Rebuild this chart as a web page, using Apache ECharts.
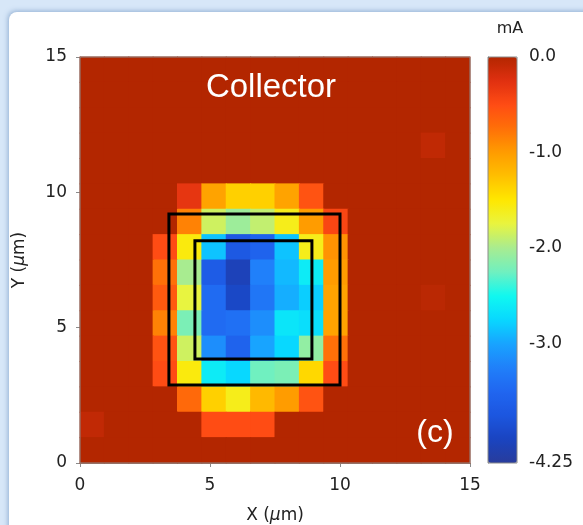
<!DOCTYPE html>
<html>
<head>
<meta charset="utf-8">
<script src="https://cdn.jsdelivr.net/npm/echarts@6/dist/echarts.min.js"></script>
<style>
  html, body { margin: 0; padding: 0; width: 583px; height: 525px; overflow: hidden; background: #d7e7f8; }
  #panel { position: absolute; left: 9px; top: 12px; width: 620px; height: 560px; background: #ffffff;
           border-radius: 8px 0 0 0; box-shadow: -1px -1px 5px rgba(90,130,180,0.55); }
  #chart { position: absolute; left: 0; top: 0; width: 583px; height: 525px; }
</style>
</head>
<body>
<div id="panel"></div>
<div id="chart"></div>
<script>
// ---- data (values in mA), 16 x 16 cells over 0..15 um ----
const xCells = ['0','1','2','3','4','5','6','7','8','9','10','11','12','13','14','15'];
const yCells = ['0','1','2','3','4','5','6','7','8','9','10','11','12','13','14','15'];
// rows listed from top (row 15) to bottom (row 0), columns left to right
const row15 = [0,0,0,0,0,0,0,0,0,0,0,0,0,0,0,0];
const row14 = [0,0,0,0,0,0,0,0,0,0,0,0,0,0,0,0];
const row13 = [0,0,0,0,0,0,0,0,0,0,0,0,0,0,0,0];
const row12 = [0,0,0,0,0,0,0,0,0,0,0,0,0,0,-0.07,0];
const row11 = [0,0,0,0,0,0,0,0,0,0,0,0,0,0,0,0];
const row10 = [0,0,0,0,-0.3,-1.05,-1.35,-1.35,-1.05,-0.55,0,0,0,0,0,0];
const row9  = [0,0,0,0,-0.85,-1.85,-2.05,-1.9,-1.6,-1.0,-0.45,0,0,0,0,0];
const row8  = [0,0,0,-0.5,-1.55,-2.85,-3.7,-3.55,-2.85,-1.6,-0.95,0,0,0,0,0];
const row7  = [0,0,0,-0.75,-2.0,-3.65,-4.05,-3.25,-2.9,-2.6,-1.0,0,0,0,0,0];
const row6  = [0,0,0,-0.6,-1.75,-3.45,-3.95,-3.35,-2.95,-2.8,-1.05,0,0,0,-0.04,0];
const row5  = [0,0,0,-0.85,-2.2,-3.45,-3.4,-3.15,-2.65,-2.7,-1.05,0,0,0,0,0];
const row4  = [0,0,0,-0.55,-1.85,-3.15,-3.55,-3.0,-2.75,-2.1,-0.75,0,0,0,0,0];
const row3  = [0,0,0,-0.5,-1.55,-2.6,-2.75,-2.25,-2.2,-1.4,-0.5,0,0,0,0,0];
const row2  = [0,0,0,0,-0.7,-1.35,-1.6,-1.2,-1.0,-0.55,0,0,0,0,0,0];
const row1  = [-0.08,0,0,0,0,-0.5,-0.5,-0.5,0,0,0,0,0,0,0,0];
const row0  = [0,0,0,0,0,0,0,0,0,0,0,0,0,0,0,0];
const rowsTopDown = [row15,row14,row13,row12,row11,row10,row9,row8,row7,row6,row5,row4,row3,row2,row1,row0];

// marked regions (um)
const outerRectX = [3.42, 10.0];
const outerRectY = [2.88, 9.2];
const innerRectX = [4.42, 8.92];
const innerRectY = [3.84, 8.21];

// colour bar ticks
const barTicks = [0, -1, -2, -3, -4];
const barLabels = [0, -1, -2, -3, -4.25];
const barMin = -4.25, barMax = 0;

// colormap (from min to max)
const cmap = ['#283c9c','#1a44c0','#1c56e0','#2066f0','#2080fa','#18a4ff','#08d8ff','#10f8f0',
              '#70f0c0','#a8ec90','#e8f440','#ffe800','#ffc000','#ff9c00','#ff7008','#ff4c14','#e03010','#b32600'];

const heatData = [];
rowsTopDown.forEach((row, k) => {
  const r = 15 - k;
  row.forEach((v, i) => heatData.push([i, r, v]));
});
function rectPath(xs, ys) {
  return [[xs[0], ys[0]], [xs[1], ys[0]], [xs[1], ys[1]], [xs[0], ys[1]], [xs[0], ys[0]]];
}

const FONT = 'DejaVu Sans';
const chart = echarts.init(document.getElementById('chart'), null, { renderer: 'canvas' });
chart.setOption({
  backgroundColor: 'transparent',
  animation: false,
  grid: [
    { left: 80, top: 57, width: 390, height: 406, show: true, borderColor: '#8a8a8a', borderWidth: 1, z: 10, outerBoundsMode: 'none', containLabel: false },
    { left: 488, top: 57, width: 29, height: 406, show: true, borderColor: '#8a8a8a', borderWidth: 1, z: 10, outerBoundsMode: 'none', containLabel: false }
  ],
  xAxis: [
    { type: 'category', gridIndex: 0, data: xCells, show: false },
    { type: 'value', gridIndex: 0, min: 0, max: 15, interval: 5, position: 'bottom',
      axisLine: { lineStyle: { color: '#8a8a8a' } },
      axisTick: { show: true, length: 4, lineStyle: { color: '#8a8a8a' } },
      splitLine: { show: false },
      axisLabel: { color: '#222', fontFamily: FONT, fontSize: 17, margin: 14 },
      name: '{n|X (}{i|μ}{n|m)}', nameLocation: 'middle', nameGap: 44,
      nameTextStyle: { rich: { n: { color: '#222', fontFamily: FONT, fontSize: 17 }, i: { color: '#222', fontFamily: FONT, fontSize: 17, fontStyle: 'italic' } } }
    },
    { type: 'value', gridIndex: 1, min: 0, max: 1, show: false }
  ],
  yAxis: [
    { type: 'category', gridIndex: 0, data: yCells, show: false },
    { type: 'value', gridIndex: 0, min: 0, max: 15, interval: 5, position: 'left',
      axisLine: { show: true, lineStyle: { color: '#8a8a8a' } },
      axisTick: { show: true, length: 4, lineStyle: { color: '#8a8a8a' } },
      splitLine: { show: false },
      axisLabel: { color: '#222', fontFamily: FONT, fontSize: 17, margin: 13 },
      name: '{n|Y (}{i|μ}{n|m)}', nameLocation: 'middle', nameGap: 52, nameRotate: 90,
      nameTextStyle: { rich: { n: { color: '#222', fontFamily: FONT, fontSize: 17 }, i: { color: '#222', fontFamily: FONT, fontSize: 17, fontStyle: 'italic' } } }
    },
    { type: 'value', gridIndex: 1, min: barMin, max: barMax, position: 'right',
      axisLine: { show: true, lineStyle: { color: '#8a8a8a' } },
      axisTick: { show: true, inside: false, length: 5, customValues: barTicks, lineStyle: { color: '#333' } },
      splitLine: { show: false },
      axisLabel: { customValues: barLabels, color: '#222', fontFamily: FONT, fontSize: 17, margin: 12,
                   formatter: v => (Math.abs(v - barMin) < 1e-9 ? barMin.toFixed(2) : Number(v).toFixed(1)) }
    }
  ],
  visualMap: {
    type: 'continuous', min: barMin, max: barMax, seriesIndex: 0, dimension: 2, calculable: false,
    orient: 'vertical', left: 488, top: 57, itemWidth: 29, itemHeight: 406, padding: 0,
    inRange: { color: cmap }, showLabel: false, text: null, hoverLink: false
  },
  series: [
    { type: 'custom', xAxisIndex: 0, yAxisIndex: 0, data: heatData, z: 2,
      encode: { x: 0, y: 1 },
      renderItem: function (params, api) {
        const c = api.coord([api.value(0), api.value(1)]);
        const s = api.size([1, 1]);
        return { type: 'rect',
          shape: { x: c[0] - s[0] / 2 - 0.5, y: c[1] - s[1] / 2 - 0.5, width: s[0] + 1, height: s[1] + 1 },
          style: { fill: api.visual('color') } };
      } },
    { type: 'line', xAxisIndex: 1, yAxisIndex: 1, data: rectPath(outerRectX, outerRectY), symbol: 'none', z: 5,
      lineStyle: { color: '#000', width: 3, join: 'miter', cap: 'square' } },
    { type: 'line', xAxisIndex: 1, yAxisIndex: 1, data: rectPath(innerRectX, innerRectY), symbol: 'none', z: 5,
      lineStyle: { color: '#000', width: 3, join: 'miter', cap: 'square' } }
  ],
  graphic: [
    { type: 'text', x: 271, y: 88, z: 20, style: { text: 'Collector', fill: '#ffffff', font: '33px "Liberation Sans"', textAlign: 'center', textVerticalAlign: 'middle' } },
    { type: 'text', x: 435, y: 433, z: 20, style: { text: '(c)', fill: '#ffffff', font: '32px "Liberation Sans"', textAlign: 'center', textVerticalAlign: 'middle' } },
    { type: 'text', x: 510, y: 29, z: 20, style: { text: 'mA', fill: '#222', font: '16px "DejaVu Sans"', textAlign: 'center', textVerticalAlign: 'middle' } }
  ]
});
</script>
</body>
</html>
